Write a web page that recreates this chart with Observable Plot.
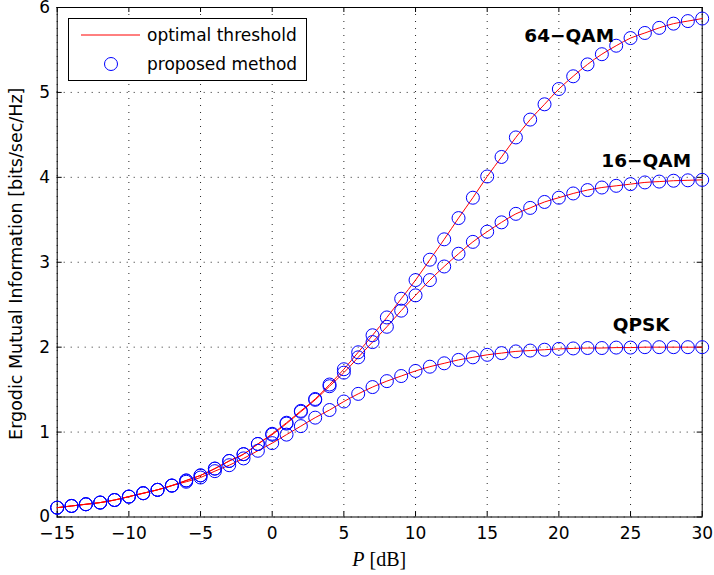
<!DOCTYPE html>
<html><head><meta charset="utf-8">
<script src="https://cdn.jsdelivr.net/npm/d3@7"></script>
<script src="https://cdn.jsdelivr.net/npm/@observablehq/plot@0.6"></script>
<style>body{margin:0;background:#fff}</style>
</head><body><div id="chart"></div>
<script>
// ---- data ----
const P = [-15,-14,-13,-12,-11,-10,-9,-8,-7,-6,-5,-4,-3,-2,-1,0,1,2,3,4,5,6,7,8,9,10,11,12,13,14,15,16,17,18,19,20,21,22,23,24,25,26,27,28,29,30];
const qpsk  = [0.11,0.13,0.15,0.17,0.20,0.24,0.28,0.32,0.37,0.415,0.465,0.54,0.61,0.69,0.78,0.87,0.97,1.07,1.17,1.26,1.36,1.45,1.53,1.60,1.66,1.72,1.77,1.81,1.85,1.88,1.91,1.93,1.95,1.96,1.97,1.98,1.985,1.99,1.99,1.995,1.995,2.0,2.0,2.0,2.0,2.0];
const qam16 = [0.11,0.13,0.15,0.17,0.20,0.24,0.28,0.32,0.37,0.43,0.49,0.57,0.66,0.74,0.86,0.97,1.10,1.24,1.38,1.54,1.70,1.88,2.06,2.24,2.43,2.61,2.79,2.95,3.10,3.24,3.36,3.47,3.57,3.64,3.71,3.76,3.81,3.85,3.88,3.90,3.92,3.94,3.95,3.96,3.965,3.97];
const qam64 = [0.11,0.13,0.15,0.17,0.20,0.24,0.28,0.32,0.37,0.43,0.49,0.57,0.66,0.74,0.86,0.98,1.11,1.25,1.39,1.56,1.74,1.94,2.14,2.35,2.57,2.79,3.03,3.27,3.52,3.76,4.01,4.24,4.47,4.68,4.86,5.04,5.19,5.33,5.45,5.55,5.64,5.70,5.76,5.81,5.84,5.87];
const seriesNames = ["QPSK", "16−QAM", "64−QAM"];
const xTicks = [-15,-10,-5,0,5,10,15,20,25,30];
const yTicks = [0,1,2,3,4,5,6];
const legendLabels = ["optimal threshold", "proposed method"];
const xLabelItalic = "P";
const xLabelRest = " [dB]";
const yLabel = "Ergodic Mutual Information [bits/sec/Hz]";

// ---- table ----
const rows = [];
[qpsk, qam16, qam64].forEach((vals, i) => vals.forEach((v, j) => rows.push({series: seriesNames[i], P: P[j], I: v})));
const lastOf = name => rows.filter(d => d.series === name).slice(-1);

const W = 714, H = 575, mL = 56.7, mR = 12.3, mT = 7, mB = 58.5;
const plotW = W - mL - mR, plotH = H - mT - mB;
const tickY = 5 * 6 / plotH, tickX = 5 * 45 / plotW;
const font = "DejaVu Sans";
const RED = "#ff0000", BLUE = "#0000ff";
const fmt = d => d < 0 ? "\u2212" + Math.abs(d) : String(d);
const grid = {stroke: "#000", strokeOpacity: 0.85, strokeDasharray: "1,6", strokeWidth: 1};

const chart = Plot.plot({
  width: W, height: H,
  marginLeft: mL, marginRight: mR, marginTop: mT, marginBottom: mB,
  style: {fontFamily: font, fontSize: "17px", background: "#fff", color: "#000", overflow: "visible"},
  x: {domain: [-15, 30], ticks: xTicks, tickSize: 0, tickPadding: 10, tickFormat: fmt, label: null},
  y: {domain: [0, 6], ticks: yTicks, tickSize: 0, tickPadding: 7, tickFormat: fmt, label: null},
  marks: [
    Plot.ruleX(xTicks, {x: d => d, ...grid}),
    Plot.ruleY(yTicks, {y: d => d, ...grid}),
    Plot.ruleX(xTicks, {x: d => d, y1: 0, y2: tickY, stroke: "#000"}),
    Plot.ruleX(xTicks, {x: d => d, y1: 6 - tickY, y2: 6, stroke: "#000"}),
    Plot.ruleY(yTicks, {y: d => d, x1: -15, x2: -15 + tickX, stroke: "#000"}),
    Plot.ruleY(yTicks, {y: d => d, x1: 30 - tickX, x2: 30, stroke: "#000"}),
    Plot.frame({stroke: "#000", strokeWidth: 1}),
    Plot.line(rows, {x: "P", y: "I", z: "series", stroke: RED, strokeWidth: 1, curve: "monotone-x"}),
    Plot.dot(rows, {x: "P", y: "I", r: 6.5, stroke: BLUE, fill: "none", strokeWidth: 1}),
    Plot.text(lastOf("64−QAM"), {x: "P", y: "I", text: "series", dx: -133, dy: 18, fontWeight: "bold", fontSize: 18.5}),
    Plot.text(lastOf("16−QAM"), {x: "P", y: "I", text: "series", dx: -56, dy: -19, fontWeight: "bold", fontSize: 18.5}),
    Plot.text(lastOf("QPSK"), {x: "P", y: "I", text: "series", dx: -61, dy: -22, fontWeight: "bold", fontSize: 18.5})
  ]
});

const svg = d3.select(chart);
// axis labels
svg.append("text")
  .attr("transform", `translate(16,${mT + plotH / 2 + 2}) rotate(-90)`)
  .attr("text-anchor", "middle").attr("dominant-baseline", "central")
  .attr("font-family", font).attr("font-size", 17.5).attr("fill", "#000")
  .text(yLabel);
const xl = svg.append("text")
  .attr("x", mL + plotW / 2).attr("y", 566)
  .attr("text-anchor", "middle")
  .attr("font-family", "Liberation Serif, DejaVu Serif, serif").attr("font-size", 20).attr("fill", "#000");
xl.append("tspan").attr("font-style", "italic").text(xLabelItalic);
xl.append("tspan").text(xLabelRest);

// legend
const lg = svg.append("g");
lg.append("rect").attr("x", 68.5).attr("y", 18.5).attr("width", 238).attr("height", 62)
  .attr("fill", "#fff").attr("stroke", "#000").attr("stroke-width", 1);
lg.append("line").attr("x1", 81).attr("x2", 140).attr("y1", 35).attr("y2", 35)
  .attr("stroke", RED).attr("stroke-width", 1);
lg.append("circle").attr("cx", 111).attr("cy", 64).attr("r", 6.5)
  .attr("fill", "none").attr("stroke", BLUE).attr("stroke-width", 1);
legendLabels.forEach((t, i) => lg.append("text").attr("x", 147).attr("y", 35 + i * 29)
  .attr("text-anchor", "start").attr("dominant-baseline", "central")
  .attr("font-family", font).attr("font-size", 17).attr("fill", "#000").text(t));

document.getElementById("chart").appendChild(chart);
</script>
</body></html>
